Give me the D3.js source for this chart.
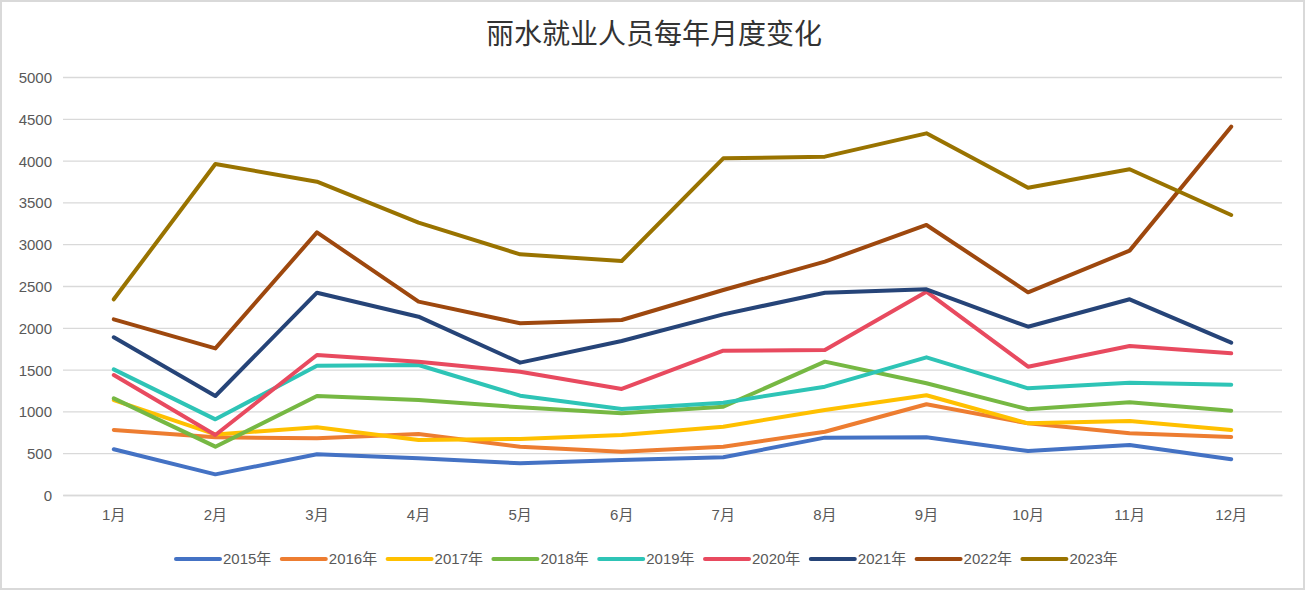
<!DOCTYPE html>
<html>
<head>
<meta charset="utf-8">
<script src="https://cdn.jsdelivr.net/npm/d3@7"></script>
<style>
  body { margin: 0; background: #fff; }
  svg { display: block; }
  .tick text { fill: #595959; font-family: "Liberation Sans", "Noto Sans CJK SC", sans-serif; font-size: 15px; }
</style>
</head>
<body>
<div id="chart"></div>
<script>
var svgWidth = 1305;
var svgHeight = 590;

var margin = { top: 77, right: 23, bottom: 95, left: 63 };
var width = svgWidth - margin.left - margin.right;
var height = svgHeight - margin.top - margin.bottom;

// data
var months = ["1月", "2月", "3月", "4月", "5月", "6月", "7月", "8月", "9月", "10月", "11月", "12月"];
var years = ["2015年", "2016年", "2017年", "2018年", "2019年", "2020年", "2021年", "2022年", "2023年"];
var colors = ["#4472C4", "#ED7D31", "#FFC000", "#76B843", "#2EC4B6", "#E84A5F", "#264478", "#9E480E", "#997300"];
var yTicks = [0, 500, 1000, 1500, 2000, 2500, 3000, 3500, 4000, 4500, 5000];

var v2015 = [547, 247, 487, 439, 379, 419, 451, 686, 690, 526, 598, 427];
var v2016 = [778, 690, 678, 730, 578, 518, 578, 757, 1085, 857, 738, 694];
var v2017 = [1136, 725, 810, 658, 670, 718, 817, 1017, 1193, 857, 885, 778];
var v2018 = [1156, 578, 1184, 1136, 1049, 977, 1057, 1595, 1336, 1025, 1109, 1009];
var v2019 = [1503, 905, 1547, 1555, 1188, 1029, 1104, 1296, 1647, 1276, 1344, 1320];
var v2020 = [1435, 718, 1675, 1595, 1475, 1268, 1726, 1734, 2432, 1535, 1782, 1695];
var v2021 = [1886, 1184, 2420, 2133, 1583, 1842, 2161, 2420, 2460, 2013, 2341, 1822];
var v2022 = [2101, 1754, 3142, 2313, 2054, 2093, 2452, 2791, 3230, 2424, 2923, 4406];
var v2023 = [2341, 3959, 3748, 3257, 2879, 2799, 4027, 4047, 4326, 3676, 3896, 3349];

var series = [v2015, v2016, v2017, v2018, v2019, v2020, v2021, v2022, v2023];

var svg = d3.select("#chart")
  .append("svg")
  .attr("width", svgWidth)
  .attr("height", svgHeight);

// outer frame
svg.append("rect")
  .attr("x", 1)
  .attr("y", 1)
  .attr("width", svgWidth - 2)
  .attr("height", svgHeight - 2)
  .attr("fill", "#fff")
  .attr("stroke", "#d9d9d9")
  .attr("stroke-width", 2);

var chartGroup = svg.append("g")
  .attr("transform", `translate(${margin.left}, ${margin.top})`);

var xScale = d3.scaleBand()
  .domain(months)
  .range([0, width]);

var yScale = d3.scaleLinear()
  .domain([0, 5000])
  .range([height, 0]);

// gridlines + y labels
var leftAxis = d3.axisLeft(yScale)
  .tickValues(yTicks)
  .tickFormat(d3.format("d"))
  .tickSize(-width)
  .tickPadding(11);

var yAxis = chartGroup.append("g").call(leftAxis);
yAxis.select(".domain").remove();
yAxis.selectAll(".tick line").attr("stroke", "#d9d9d9").attr("stroke-width", 1.3);
yAxis.selectAll(".tick text").attr("dy", "0.36em");

// x axis
var bottomAxis = d3.axisBottom(xScale).tickSize(0).tickPadding(14);
var xAxis = chartGroup.append("g")
  .attr("transform", `translate(0, ${height})`)
  .call(bottomAxis);
xAxis.select(".domain").attr("stroke", "#d9d9d9").attr("stroke-width", 1.3);

// lines
var line = d3.line()
  .x((d, i) => xScale(months[i]) + xScale.bandwidth() / 2)
  .y(d => yScale(d));

chartGroup.selectAll(".series")
  .data(series)
  .enter()
  .append("path")
  .attr("class", "series")
  .attr("d", d => line(d))
  .attr("fill", "none")
  .attr("stroke", (d, i) => colors[i])
  .attr("stroke-width", 4)
  .attr("stroke-linejoin", "round")
  .attr("stroke-linecap", "round");

// title
svg.append("text")
  .attr("x", 654)
  .attr("y", 44)
  .attr("text-anchor", "middle")
  .attr("font-family", "Noto Sans CJK SC, sans-serif")
  .attr("font-size", 28)
  .attr("fill", "#333")
  .text("丽水就业人员每年月度变化");

// legend
var legend = svg.append("g")
  .attr("transform", "translate(176, 559)");

var item = legend.selectAll(".item")
  .data(years)
  .enter()
  .append("g")
  .attr("class", "item")
  .attr("transform", (d, i) => `translate(${i * 105.8}, 0)`);

item.append("line")
  .attr("x1", 0)
  .attr("x2", 44)
  .attr("stroke", (d, i) => colors[i])
  .attr("stroke-width", 4)
  .attr("stroke-linecap", "round");

item.append("text")
  .attr("x", 47)
  .attr("dy", "0.36em")
  .attr("font-family", "Liberation Sans, Noto Sans CJK SC, sans-serif")
  .attr("font-size", 15)
  .attr("fill", "#595959")
  .text(d => d);
</script>
</body>
</html>
